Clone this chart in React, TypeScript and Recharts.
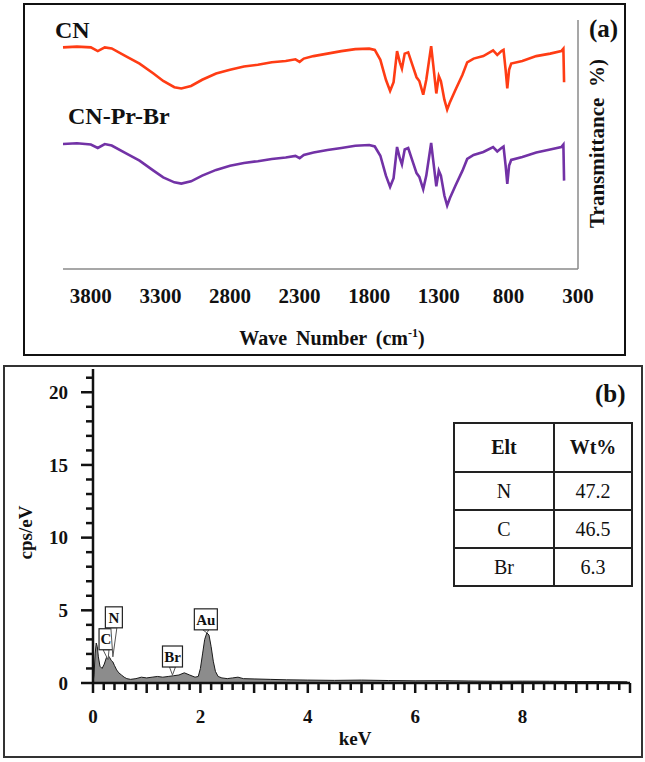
import React from "react";
import {
  Area,
  AreaChart,
  Line,
  LineChart,
  ReferenceDot,
  XAxis,
  YAxis,
} from "recharts";

// ---- panel (a): FTIR ----
const waveNumbers = [
  4000, 3900, 3800, 3750, 3700, 3650, 3550, 3450, 3350, 3280, 3200, 3150, 3080,
  3000, 2900, 2800, 2700, 2600, 2500, 2400, 2330, 2300, 2270, 2200, 2100, 2000,
  1900, 1800, 1760, 1720, 1680, 1650, 1625, 1600, 1580, 1565, 1545, 1520, 1490,
  1460, 1440, 1412, 1390, 1355, 1340, 1318, 1300, 1285, 1260, 1240, 1220, 1180,
  1130, 1096, 1050, 980, 910, 880, 850, 835, 820, 808, 795, 780, 700, 600, 500,
  420, 405, 400,
];
const cnT = [
  89.0, 89.3, 89.0, 87.5, 89.0, 88.6, 85.5, 82.5, 78.5, 75.5, 73.0, 72.5, 73.5,
  76.0, 78.5, 80.0, 81.3, 82.0, 83.0, 83.5, 84.2, 83.2, 84.5, 85.5, 86.5, 87.5,
  88.3, 88.5, 88.0, 84.0, 76.0, 71.5, 75.0, 87.5, 83.0, 80.5, 86.5, 87.0, 82.0,
  77.0, 75.5, 70.0, 76.0, 89.5, 82.0, 70.5, 77.5, 75.5, 68.0, 64.0, 67.0, 72.0,
  78.0, 83.0, 84.5, 85.5, 87.8, 86.0, 87.5, 88.0, 80.0, 72.5, 80.0, 82.5, 83.5,
  85.5, 86.5, 87.5, 88.5, 75.0,
];
const cnPrBrT = [
  50.2, 50.5, 50.0, 48.6, 50.2, 49.6, 46.5, 43.5, 39.5, 36.8, 34.8, 34.3, 35.2,
  37.5, 39.8, 41.5, 42.6, 43.3, 44.2, 44.8, 45.4, 44.5, 45.8, 46.8, 47.8, 48.6,
  49.5, 49.8, 49.2, 45.5, 37.5, 33.0, 36.5, 49.0, 44.5, 42.0, 48.0, 48.6, 43.5,
  38.5, 37.0, 32.0, 37.5, 50.6, 43.5, 33.2, 39.5, 37.5, 29.5, 25.5, 28.5, 33.5,
  39.5, 44.2, 45.8, 47.0, 49.0, 47.2, 48.6, 49.2, 41.5, 34.2, 41.5, 43.8, 45.0,
  46.8, 48.0, 49.0, 50.0, 35.5,
];
const waveTicks = [3800, 3300, 2800, 2300, 1800, 1300, 800, 300];

// ---- panel (b): EDS ----
const keV = [
  0, 0.02, 0.04, 0.06, 0.08, 0.1, 0.13, 0.17, 0.21, 0.25, 0.28, 0.31, 0.34, 0.37,
  0.4, 0.44, 0.48, 0.53, 0.58, 0.63, 0.7, 0.8, 0.9, 1.0, 1.1, 1.2, 1.3, 1.4, 1.5,
  1.6, 1.7, 1.8, 1.9, 1.96, 2.0, 2.04, 2.08, 2.12, 2.16, 2.2, 2.24, 2.28, 2.33,
  2.4, 2.5, 2.6, 2.7, 2.8, 3.0, 3.3, 3.6, 4.0, 4.5, 5.0, 5.5, 6.0, 6.5, 7.0, 7.5,
  8.0, 8.5, 9.0, 9.5, 9.95,
];
const cps = [
  0, 0.6, 2.0, 2.75, 2.5, 1.8, 1.15, 1.0, 1.3, 1.75, 1.9, 1.75, 1.55, 1.45, 1.2,
  0.9, 0.7, 0.55, 0.4, 0.3, 0.25, 0.3, 0.4, 0.35, 0.4, 0.45, 0.4, 0.45, 0.5, 0.55,
  0.7, 0.55, 0.4, 0.45, 1.0, 2.0, 3.0, 3.45, 3.3, 2.5, 1.5, 0.8, 0.45, 0.35, 0.3,
  0.35, 0.4, 0.3, 0.28, 0.25, 0.22, 0.2, 0.18, 0.2, 0.17, 0.15, 0.16, 0.14, 0.12,
  0.13, 0.12, 0.1, 0.1, 0.08,
];
const cpsTicks = [
  0, 1, 2, 3, 4, 5, 6, 7, 8, 9, 10, 11, 12, 13, 14, 15, 16, 17, 18, 19, 20, 21,
];
const keVTicks = Array.from({ length: 51 }, (_, i) => Number((i * 0.2).toFixed(1)));
const keVLabels = [0, 2, 4, 6, 8];
const cpsLabels = [0, 5, 10, 15, 20];

const peakElements = ["C", "N", "Br", "Au"];
const peakKeV = [0.28, 0.37, 1.48, 2.12];
const peakCps = [1.6, 1.8, 0.55, 3.45];

const tableElements = ["N", "C", "Br"];
const tableWt = ["47.2", "46.5", "6.3"];

const SERIF = "'Liberation Serif', 'Times New Roman', serif";

const ftirData = waveNumbers.map((wn, i) => ({
  wn,
  cn: cnT[i],
  cnPrBr: cnPrBrT[i],
}));
const edsData = keV.map((k, i) => ({ kev: k, cps: cps[i] }));

// callout geometry (px above the peak tip, box shift)
const calloutGap = [10, 29, 8, 3];
const calloutShift = [-2, 1, 0, -1];
const calloutWidth = [14, 17, 20, 23];

const Label = ({
  children,
  x,
  y,
  size,
  bold = true,
  align = "left",
  rotate = false,
}: any) => (
  <div
    style={{
      position: "absolute",
      left: x,
      top: y - size / 2,
      fontFamily: SERIF,
      fontSize: size,
      fontWeight: bold ? "bold" : "normal",
      lineHeight: 1,
      whiteSpace: "nowrap",
      transform: rotate
        ? "translateX(-50%) rotate(-90deg)"
        : align === "center"
        ? "translateX(-50%)"
        : undefined,
    }}
  >
    {children}
  </div>
);

const CpsTick = ({ x, y, payload }: any) => {
  const v = payload.value;
  const major = cpsLabels.includes(v);
  return (
    <g>
      <line x1={x - (major ? 12 : 7)} x2={x} y1={y} y2={y} stroke="#111" strokeWidth={2.5} />
      {major && (
        <text
          x={x - 25}
          y={y}
          dy="0.35em"
          textAnchor="end"
          fontFamily={SERIF}
          fontWeight="bold"
          fontSize={19}
          fill="#111"
        >
          {v}
        </text>
      )}
    </g>
  );
};

const KeVTick = ({ x, y, payload }: any) => {
  const v = payload.value;
  const integer = Math.abs(v - Math.round(v)) < 1e-6;
  const labelled = integer && keVLabels.includes(Math.round(v));
  return (
    <g>
      <line x1={x} x2={x} y1={y} y2={y + (integer ? 10 : 7)} stroke="#111" strokeWidth={2.5} />
      {labelled && (
        <text
          x={x}
          y={y + 33}
          dy="0.35em"
          textAnchor="middle"
          fontFamily={SERIF}
          fontWeight="bold"
          fontSize={19}
          fill="#111"
        >
          {Math.round(v)}
        </text>
      )}
    </g>
  );
};

const makeCallout = (i: number) => (props: any) => {
  const { cx, cy } = props;
  const w = calloutWidth[i];
  const h = 21;
  const bx = cx + calloutShift[i] - w / 2;
  const by = cy - calloutGap[i] - h;
  const mid = bx + w / 2;
  return (
    <g>
      <polygon
        points={`${mid - 3},${by + h} ${mid + 3},${by + h} ${cx},${cy}`}
        fill="#fff"
        stroke="#555"
        strokeWidth={1}
      />
      <rect x={bx} y={by} width={w} height={h} fill="#fff" stroke="#222" strokeWidth={1.2} />
      <text
        x={mid}
        y={by + h / 2}
        dy="0.35em"
        textAnchor="middle"
        fontFamily={SERIF}
        fontWeight="bold"
        fontSize={15}
        fill="#111"
      >
        {peakElements[i]}
      </text>
    </g>
  );
};

const cellStyle: React.CSSProperties = {
  border: "2px solid #222",
  textAlign: "center",
  padding: 0,
  fontFamily: SERIF,
  fontSize: 20,
};

export default function App() {
  return (
    <div
      style={{
        position: "absolute",
        left: 0,
        top: 0,
        width: 645,
        height: 762,
        background: "#fff",
        color: "#111",
      }}
    >
      {/* panel borders */}
      <div
        style={{
          position: "absolute",
          left: 23,
          top: 3,
          width: 603,
          height: 353,
          border: "2px solid #111",
          boxSizing: "border-box",
        }}
      />
      <div
        style={{
          position: "absolute",
          left: 3,
          top: 365,
          width: 640,
          height: 393,
          border: "2px solid #333",
          boxSizing: "border-box",
        }}
      />

      {/* (a) FTIR */}
      <div style={{ position: "absolute", left: 0, top: 0 }}>
        <LineChart
          width={645}
          height={380}
          data={ftirData}
          margin={{ top: 20, right: 29, bottom: 71, left: 63 }}
        >
          <XAxis
            dataKey="wn"
            type="number"
            domain={[300, 4000]}
            reversed
            ticks={waveTicks}
            interval={0}
            height={40}
            tickLine={false}
            tickSize={17}
            tickMargin={2}
            axisLine={{ stroke: "#8a8a8a", strokeWidth: 1.5 }}
            tick={{ fontFamily: SERIF, fontWeight: "bold", fontSize: 21, fill: "#111" }}
          />
          <YAxis
            orientation="right"
            domain={[0, 100]}
            width={38}
            tick={false}
            tickLine={false}
            axisLine={{ stroke: "#8a8a8a", strokeWidth: 1.5 }}
          />
          <Line
            dataKey="cn"
            stroke="#ff3c14"
            strokeWidth={2.6}
            dot={false}
            type="linear"
            isAnimationActive={false}
          />
          <Line
            dataKey="cnPrBr"
            stroke="#7232a6"
            strokeWidth={2.6}
            dot={false}
            type="linear"
            isAnimationActive={false}
          />
        </LineChart>
      </div>
      <Label x={55} y={30} size={24}>CN</Label>
      <Label x={68} y={116} size={24}>CN-Pr-Br</Label>
      <Label x={589} y={28} size={25}>(a)</Label>
      <Label x={597} y={143} size={21} rotate>
        Transmittance&nbsp;&nbsp;%)
      </Label>
      <Label x={332} y={337} size={20} align="center">
        <span style={{ wordSpacing: 4 }}>Wave Number (cm</span>
        <sup style={{ fontSize: 12 }}>-1</sup>)
      </Label>

      {/* (b) EDS */}
      <div style={{ position: "absolute", left: 0, top: 360 }}>
        <AreaChart
          width={645}
          height={400}
          data={edsData}
          margin={{ top: 9, right: 15, bottom: 27, left: 33 }}
        >
          <XAxis
            dataKey="kev"
            type="number"
            domain={[0, 10]}
            ticks={keVTicks}
            interval={0}
            height={50}
            tickLine={false}
            tickSize={0}
            tickMargin={0}
            axisLine={{ stroke: "#111", strokeWidth: 2.5 }}
            tick={<KeVTick />}
          />
          <YAxis
            domain={[0, 21.6]}
            ticks={cpsTicks}
            interval={0}
            width={60}
            tickLine={false}
            tickSize={0}
            tickMargin={0}
            axisLine={{ stroke: "#111", strokeWidth: 2.5 }}
            tick={<CpsTick />}
          />
          <Area
            dataKey="cps"
            type="linear"
            stroke="#1a1a1a"
            strokeWidth={1}
            fill="#8c8c8c"
            fillOpacity={1}
            isAnimationActive={false}
          />
          {peakElements.map((el, i) => (
            <ReferenceDot
              key={el}
              x={peakKeV[i]}
              y={peakCps[i]}
              r={0}
              shape={makeCallout(i)}
            />
          ))}
        </AreaChart>
      </div>
      <Label x={595} y={393} size={25}>(b)</Label>
      <Label x={25} y={532} size={19} rotate>cps/eV</Label>
      <Label x={355} y={738} size={19} align="center">keV</Label>

      <table
        style={{
          position: "absolute",
          left: 453,
          top: 422,
          width: 180,
          borderCollapse: "collapse",
        }}
      >
        <tbody>
          <tr style={{ height: 49 }}>
            <td style={{ ...cellStyle, fontWeight: "bold", width: 98 }}>Elt</td>
            <td style={{ ...cellStyle, fontWeight: "bold" }}>Wt%</td>
          </tr>
          {tableElements.map((el, i) => (
            <tr key={el} style={{ height: 38 }}>
              <td style={cellStyle}>{el}</td>
              <td style={cellStyle}>{tableWt[i]}</td>
            </tr>
          ))}
        </tbody>
      </table>
    </div>
  );
}
